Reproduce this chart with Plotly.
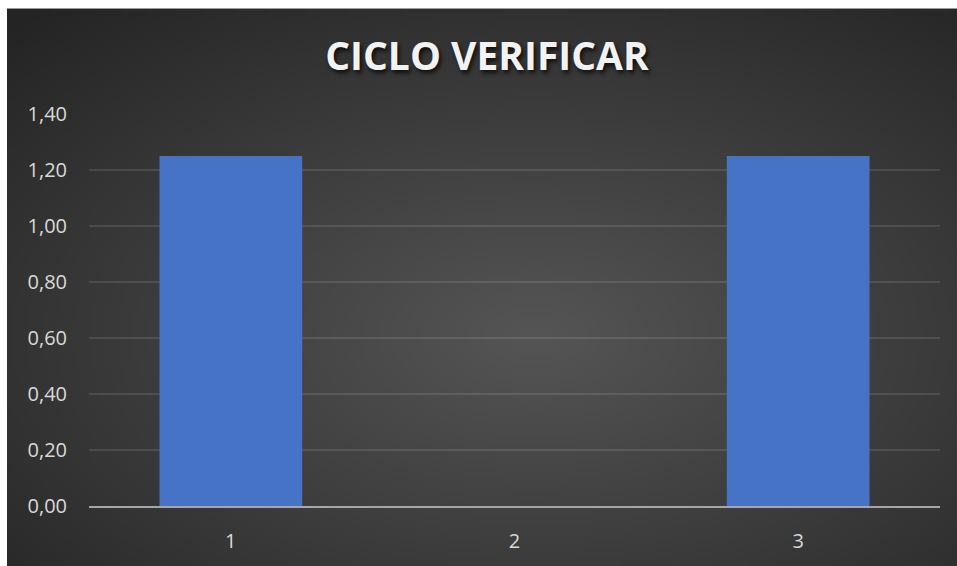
import base64, struct, zlib, math
import plotly.graph_objects as go

# ---- data ----
categories = ["1", "2", "3"]
values = [1.25, 0.0, 1.25]
y_ticks = [0, 0.2, 0.4, 0.6, 0.8, 1.0, 1.2, 1.4]
title_text = "CICLO VERIFICAR"

# ---- radial gradient background image (styling only) ----
def make_png(w, h):
    rows = []
    cx, cy = 0.55, 0.58
    for j in range(h):
        row = bytearray([0])
        for i in range(w):
            dx = (i / (w - 1) - cx) / 0.78
            dy = (j / (h - 1) - cy) / 0.78
            d = min(1.0, math.sqrt(dx * dx + dy * dy))
            c = int(round(0x55 + (0x24 - 0x55) * d))
            row += bytes([c, c, c])
        rows.append(bytes(row))
    raw = b"".join(rows)
    def chunk(t, d):
        return struct.pack(">I", len(d)) + t + d + struct.pack(">I", zlib.crc32(t + d) & 0xffffffff)
    png = b"\x89PNG\r\n\x1a\n" + chunk(b"IHDR", struct.pack(">IIBBBBB", w, h, 8, 2, 0, 0, 0))
    png += chunk(b"IDAT", zlib.compress(raw, 9)) + chunk(b"IEND", b"")
    return "data:image/png;base64," + base64.b64encode(png).decode()

bg = make_png(200, 120)

W, H = 957, 566
L, R, T, B = 89, 17, 114, 58
pw, ph = W - L - R, H - T - B
x0px, y0px = 7, 8  # white frame at top/left

fig = go.Figure()
fig.add_trace(go.Bar(
    x=categories, y=values, width=0.503,
    marker=dict(color="#4673c6", line=dict(width=0)),
))

fig.update_layout(
    width=W, height=H,
    margin=dict(l=L, r=R, t=T, b=B),
    paper_bgcolor="white",
    plot_bgcolor="rgba(0,0,0,0)",
    separators=",.",
    showlegend=False,
    title=dict(
        text=title_text, x=487 / W, xanchor="center", xref="container",
        y=1 - 56.5 / H, yanchor="middle", yref="container",
        font=dict(family="Open Sans", size=39, color="#f2f2f2", weight="bold",
                  shadow="2px 3px 4px rgba(0,0,0,0.75)"),
    ),
    images=[dict(
        source=bg, xref="paper", yref="paper",
        x=(x0px - L) / pw, y=1 + (T - y0px) / ph,
        sizex=(W - x0px + 10) / pw, sizey=(H - y0px + 10) / ph,
        sizing="stretch", xanchor="left", yanchor="top", layer="below",
    )],
    xaxis=dict(
        showgrid=False, showline=True, linecolor="#a6a6a6", linewidth=2,
        ticks="", ticklabelstandoff=16,
        tickfont=dict(family="Open Sans", size=20, color="#d9d9d9"),
        zeroline=False,
    ),
    yaxis=dict(
        range=[0, 1.4], tickvals=y_ticks, tickformat=".2f",
        showgrid=True, gridcolor="rgba(255,255,255,0.11)", gridwidth=1.5,
        zeroline=False, showline=False, ticks="", ticklabelstandoff=21,
        tickfont=dict(family="Open Sans", size=20, color="#d9d9d9"),
    ),
)

fig.write_html(
    "out.html",
    config={"displayModeBar": False},
    post_script=(
        "document.body.style.margin='0';"
        "document.body.style.background='#252525';"
        "document.documentElement.style.background='#252525';"
        "document.documentElement.style.overflow='hidden';"
    ),
)
